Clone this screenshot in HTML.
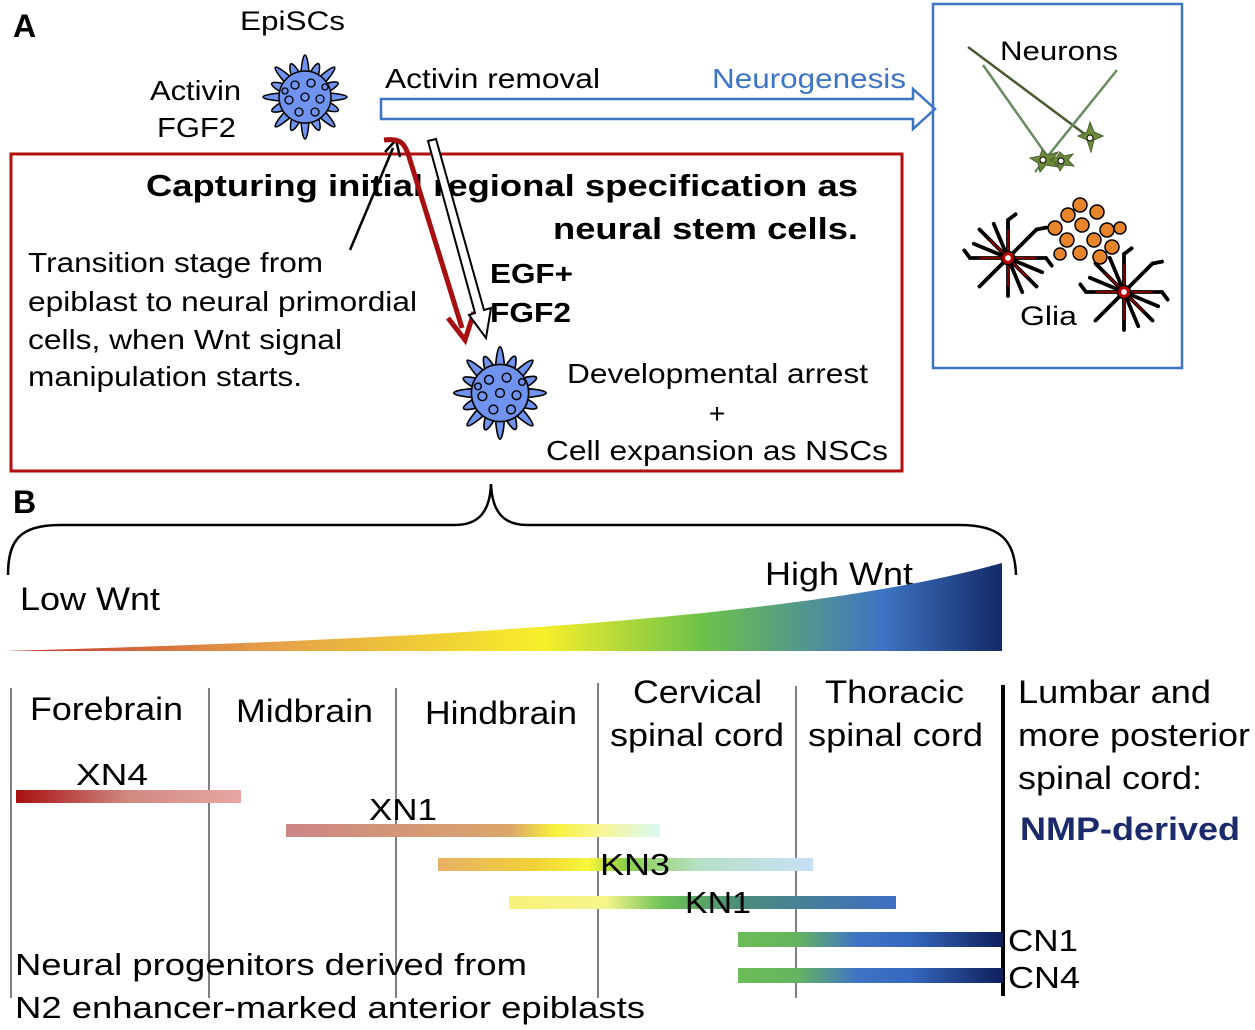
<!DOCTYPE html>
<html><head><meta charset="utf-8"><style>
html,body{margin:0;padding:0;background:#fff}
svg{display:block}
text{font-family:"Liberation Sans",sans-serif}
</style></head><body>
<svg width="1255" height="1030" viewBox="0 0 1255 1030" xmlns="http://www.w3.org/2000/svg">
<defs>
<linearGradient id="wedge" x1="5" y1="0" x2="1002" y2="0" gradientUnits="userSpaceOnUse">
<stop offset="0" stop-color="#c0302b"/><stop offset="0.25" stop-color="#e39a4a"/><stop offset="0.54" stop-color="#f7ef2a"/><stop offset="0.7" stop-color="#6cc24a"/><stop offset="0.88" stop-color="#3f74c4"/><stop offset="1" stop-color="#142a66"/>
</linearGradient>
<linearGradient id="xn4" x1="0" x2="1"><stop offset="0" stop-color="#a80f10"/><stop offset="0.5" stop-color="#cf8a82"/><stop offset="1" stop-color="#e9a6a2"/></linearGradient>
<linearGradient id="xn1" x1="0" x2="1"><stop offset="0" stop-color="#cc8585"/><stop offset="0.6" stop-color="#dba66a"/><stop offset="0.72" stop-color="#f9f23a"/><stop offset="0.85" stop-color="#f7f59a"/><stop offset="1" stop-color="#d8f9f3"/></linearGradient>
<linearGradient id="kn3" x1="0" x2="1"><stop offset="0" stop-color="#e8b066"/><stop offset="0.25" stop-color="#f0d038"/><stop offset="0.4" stop-color="#f8f63a"/><stop offset="0.5" stop-color="#8ad04a"/><stop offset="0.7" stop-color="#b8e0c8"/><stop offset="1" stop-color="#c6e0f6"/></linearGradient>
<linearGradient id="kn1" x1="0" x2="1"><stop offset="0" stop-color="#f6f37a"/><stop offset="0.25" stop-color="#f6f58a"/><stop offset="0.4" stop-color="#6cc257"/><stop offset="0.6" stop-color="#4a8c7a"/><stop offset="1" stop-color="#3d6ec4"/></linearGradient>
<linearGradient id="cn" x1="0" x2="1"><stop offset="0" stop-color="#6cbd58"/><stop offset="0.22" stop-color="#66b460"/><stop offset="0.45" stop-color="#3f74c4"/><stop offset="0.65" stop-color="#3568be"/><stop offset="1" stop-color="#0f1f5a"/></linearGradient>
<g id="cellstar">
<g fill="#6f93ee" stroke="#000" stroke-width="1.5">
<ellipse rx="42" ry="5" transform="rotate(0)"/><ellipse rx="36" ry="6" transform="rotate(22)"/>
<ellipse rx="42" ry="5" transform="rotate(45)"/><ellipse rx="36" ry="6" transform="rotate(67)"/>
<ellipse rx="42" ry="5" transform="rotate(90)"/><ellipse rx="36" ry="6" transform="rotate(112)"/>
<ellipse rx="42" ry="5" transform="rotate(135)"/><ellipse rx="36" ry="6" transform="rotate(157)"/>
<circle r="26"/>
</g>
<g fill="none" stroke="#000" stroke-width="1.3">
<circle cx="-10" cy="-12" r="4"/><circle cx="6" cy="-14" r="4"/><circle cx="-16" cy="3" r="4"/><circle cx="0" cy="0" r="4"/><circle cx="15" cy="2" r="4"/><circle cx="-6" cy="15" r="4"/><circle cx="10" cy="15" r="4"/><circle cx="-20" cy="-6" r="3"/><circle cx="20" cy="-10" r="3"/>
</g>
</g>
<g id="glia">
<g stroke="#000" stroke-width="4" stroke-linecap="round">
<line x1="-40" y1="0" x2="40" y2="0"/><line x1="0" y1="-40" x2="0" y2="40"/><line x1="-30" y1="-30" x2="30" y2="30"/><line x1="-30" y1="30" x2="30" y2="-30"/>
<line x1="-36" y1="-15" x2="36" y2="15"/><line x1="-15" y1="-36" x2="15" y2="36"/>
<line x1="-40" y1="0" x2="-46" y2="-8"/><line x1="40" y1="0" x2="46" y2="8"/><line x1="0" y1="-40" x2="8" y2="-46"/><line x1="30" y1="-30" x2="40" y2="-32"/>
</g>
<g stroke="#a00" stroke-width="1.5"><line x1="-30" y1="0" x2="30" y2="0"/><line x1="0" y1="-30" x2="0" y2="30"/><line x1="-20" y1="-20" x2="20" y2="20"/></g>
<circle r="7" fill="#b00" stroke="#000" stroke-width="1.5"/><circle r="3" fill="#fff"/>
</g>
</defs>

<text x="13" y="37" font-size="32" font-weight="bold">A</text>
<text x="240" y="30" font-size="27" textLength="105" lengthAdjust="spacingAndGlyphs">EpiSCs</text>
<text x="150" y="100" font-size="28" textLength="91" lengthAdjust="spacingAndGlyphs">Activin</text>
<text x="157" y="137" font-size="28" textLength="79" lengthAdjust="spacingAndGlyphs">FGF2</text>
<use href="#cellstar" transform="translate(305,97)"/>

<text x="385" y="88" font-size="28" textLength="215" lengthAdjust="spacingAndGlyphs">Activin removal</text>
<text x="712" y="88" font-size="28" fill="#3f74c4" textLength="194" lengthAdjust="spacingAndGlyphs">Neurogenesis</text>
<path d="M381,99 L913,99 L913,89 L935,109 L913,129 L913,119 L381,119 Z" fill="#fff" stroke="#3f74c4" stroke-width="2.5"/>

<rect x="933" y="4" width="249" height="364" fill="none" stroke="#3f74c4" stroke-width="2.5"/>
<text x="1000" y="60" font-size="27" textLength="118" lengthAdjust="spacingAndGlyphs">Neurons</text>
<g stroke-width="2.5" fill="none">
<line x1="968" y1="47" x2="1090" y2="138" stroke="#4a5a30"/>
<line x1="983" y1="65" x2="1050" y2="160" stroke="#6a8a60"/>
<line x1="1117" y1="70" x2="1035" y2="172" stroke="#6a8a60"/>
</g>
<g fill="#6b8a3a" stroke="#4a6030" stroke-width="1">
<path d="M1090,122 L1094,132 L1103,136 L1094,140 L1091,152 L1087,140 L1078,136 L1087,132 Z"/>
<path d="M1042,150 L1048,155 L1058,152 L1052,160 L1058,167 L1046,165 L1040,172 L1038,163 L1030,158 L1040,156 Z"/>
<path d="M1060,152 L1064,156 L1073,154 L1068,160 L1074,166 L1064,165 L1060,171 L1057,164 L1050,160 L1057,157 Z"/>
</g>
<circle cx="1090" cy="138" r="3" fill="#fff" stroke="#000"/><circle cx="1043" cy="160" r="3" fill="#fff" stroke="#000"/><circle cx="1061" cy="161" r="3" fill="#fff" stroke="#000"/>
<use href="#glia" transform="translate(1008,258) scale(0.95)"/>
<use href="#glia" transform="translate(1124,292) scale(0.95)"/>
<g fill="#e8852a" stroke="#000" stroke-width="1.5">
<circle cx="1080" cy="205" r="7"/><circle cx="1068" cy="215" r="7"/><circle cx="1097" cy="212" r="7"/><circle cx="1055" cy="228" r="7"/><circle cx="1082" cy="225" r="7"/><circle cx="1107" cy="230" r="7"/><circle cx="1067" cy="240" r="7"/><circle cx="1094" cy="240" r="7"/><circle cx="1112" cy="247" r="7"/><circle cx="1080" cy="253" r="7"/><circle cx="1100" cy="257" r="7"/><circle cx="1060" cy="254" r="6"/><circle cx="1120" cy="228" r="6"/>
</g>
<text x="1020" y="325" font-size="27" textLength="57" lengthAdjust="spacingAndGlyphs">Glia</text>

<rect x="11" y="154" width="891" height="317" fill="none" stroke="#b01010" stroke-width="3"/>
<text x="146" y="196" font-size="31" font-weight="bold" textLength="712" lengthAdjust="spacingAndGlyphs">Capturing initial regional specification as</text>
<text x="553" y="239" font-size="31" font-weight="bold" textLength="305" lengthAdjust="spacingAndGlyphs">neural stem cells.</text>
<g font-size="28">
<text x="28" y="272" textLength="295" lengthAdjust="spacingAndGlyphs">Transition stage from</text>
<text x="28" y="311" textLength="389" lengthAdjust="spacingAndGlyphs">epiblast to neural primordial</text>
<text x="28" y="349" textLength="314" lengthAdjust="spacingAndGlyphs">cells, when Wnt signal</text>
<text x="28" y="386" textLength="274" lengthAdjust="spacingAndGlyphs">manipulation starts.</text>
</g>
<g font-size="28" font-weight="bold"><text x="490" y="283" textLength="83" lengthAdjust="spacingAndGlyphs">EGF+</text><text x="490" y="322" textLength="81" lengthAdjust="spacingAndGlyphs">FGF2</text></g>

<line x1="350" y1="250" x2="393" y2="148" stroke="#000" stroke-width="2.5"/>
<path d="M385,152 L396,140 L400,157" fill="none" stroke="#000" stroke-width="2.5"/>
<path d="M384,140 C400,138 405,142 410,160 L462,328" fill="none" stroke="#a80f10" stroke-width="5"/>
<path d="M448,318 L465,340 L474,312" fill="none" stroke="#a80f10" stroke-width="5"/>
<path d="M428,141 L436,139 L484,310 L491,308 L486,338 L469,315 L475,313 Z" fill="#fff" stroke="#000" stroke-width="2"/>

<use href="#cellstar" transform="translate(500,393) scale(1.1)"/>
<g font-size="28">
<text x="567" y="383" textLength="301" lengthAdjust="spacingAndGlyphs">Developmental arrest</text>
<text x="717" y="423" text-anchor="middle">+</text>
<text x="546" y="460" textLength="342" lengthAdjust="spacingAndGlyphs">Cell expansion as NSCs</text>
</g>

<text x="13" y="513" font-size="32" font-weight="bold">B</text>
<path d="M8,575 C8,540 20,525 60,525 L455,525 C480,525 490,510 491,484 C492,510 502,525 527,525 L960,525 C1000,525 1015,540 1016,575" fill="none" stroke="#000" stroke-width="2.5"/>
<text x="20" y="610" font-size="32" textLength="140" lengthAdjust="spacingAndGlyphs">Low Wnt</text>
<text x="765" y="585" font-size="32" textLength="148" lengthAdjust="spacingAndGlyphs">High Wnt</text>
<path d="M5,651 L1002,651 L1002,563 C800,620 400,640 5,651 Z" fill="url(#wedge)"/>

<g stroke="#000" stroke-width="1">
<line x1="11" y1="688" x2="11" y2="998"/><line x1="209" y1="688" x2="209" y2="998"/><line x1="396" y1="688" x2="396" y2="998"/><line x1="598" y1="683" x2="598" y2="998"/><line x1="796" y1="686" x2="796" y2="998"/>
</g>
<line x1="1003" y1="685" x2="1003" y2="996" stroke="#000" stroke-width="4"/>
<g font-size="32">
<text x="30" y="720" textLength="153" lengthAdjust="spacingAndGlyphs">Forebrain</text>
<text x="236" y="722" textLength="137" lengthAdjust="spacingAndGlyphs">Midbrain</text>
<text x="425" y="724" textLength="152" lengthAdjust="spacingAndGlyphs">Hindbrain</text>
<text x="633" y="703" textLength="129" lengthAdjust="spacingAndGlyphs">Cervical</text>
<text x="610" y="746" textLength="174" lengthAdjust="spacingAndGlyphs">spinal cord</text>
<text x="825" y="703" textLength="139" lengthAdjust="spacingAndGlyphs">Thoracic</text>
<text x="808" y="746" textLength="175" lengthAdjust="spacingAndGlyphs">spinal cord</text>
<text x="1018" y="703" textLength="193" lengthAdjust="spacingAndGlyphs">Lumbar and</text>
<text x="1018" y="746" textLength="232" lengthAdjust="spacingAndGlyphs">more posterior</text>
<text x="1018" y="789" textLength="184" lengthAdjust="spacingAndGlyphs">spinal cord:</text>
<text x="1020" y="840" font-weight="bold" fill="#1a2a6a" textLength="220" lengthAdjust="spacingAndGlyphs">NMP-derived</text>
</g>
<rect x="16" y="790" width="225" height="13" fill="url(#xn4)"/>
<rect x="286" y="824" width="374" height="13" fill="url(#xn1)"/>
<rect x="438" y="858" width="375" height="13" fill="url(#kn3)"/>
<rect x="509" y="896" width="387" height="13" fill="url(#kn1)"/>
<rect x="738" y="932" width="265" height="15" fill="url(#cn)"/>
<rect x="738" y="968" width="265" height="15" fill="url(#cn)"/>
<g font-size="31">
<text x="112" y="785" text-anchor="middle" textLength="72" lengthAdjust="spacingAndGlyphs">XN4</text>
<text x="403" y="820" text-anchor="middle" textLength="68" lengthAdjust="spacingAndGlyphs">XN1</text>
<text x="635" y="875" text-anchor="middle" textLength="70" lengthAdjust="spacingAndGlyphs">KN3</text>
<text x="718" y="913" text-anchor="middle" textLength="66" lengthAdjust="spacingAndGlyphs">KN1</text>
<text x="1008" y="951" textLength="70" lengthAdjust="spacingAndGlyphs">CN1</text>
<text x="1008" y="988" textLength="72" lengthAdjust="spacingAndGlyphs">CN4</text>
<text x="15" y="975" textLength="512" lengthAdjust="spacingAndGlyphs">Neural progenitors derived from</text>
<text x="15" y="1018" textLength="630" lengthAdjust="spacingAndGlyphs">N2 enhancer-marked anterior epiblasts</text>
</g>
</svg>
</body></html>
